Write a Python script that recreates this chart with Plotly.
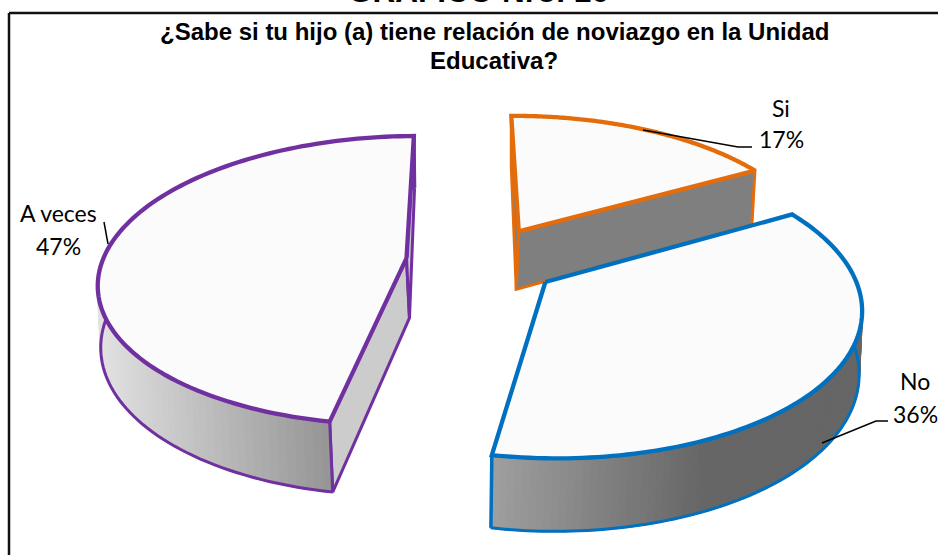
import math
import plotly.graph_objects as go

# chart data
labels = ["Si", "No", "A veces"]
values = [17, 36, 47]
edge_colors = ["#E46C0A", "#0070C0", "#7030A0"]
cut_colors = ["#7F7F7F", "#7F7F7F", "#CCCCCC"]
wall_from = [(127, 127, 127), (160, 160, 160), (226, 226, 226)]
wall_to = [(127, 127, 127), (102, 102, 102), (150, 150, 150)]
top_color = "#FBFBFB"
title_lines = ["¿Sabe si tu hijo (a) tiene relación de noviazgo en la Unidad", "Educativa?"]
heading = "GRÁFICO Nro. 16"

# projection of the tilted pie onto the page (pixels)
W, H = 938, 555
x0, y0 = 482, 261
Ax, Ay = 304, 141.8
persp = 0.155
explode = 0.25
thick = 60
start_deg = -0.6


def project(wx, wz, low=False):
    d = 1 + persp * wz
    sx = Ax * wx / d
    sy = Ay * wz / d
    if low:
        lean = min(1, max(0, (1.1 - wz) * 3))
        return x0 + sx - 3 * lean * math.tanh(sx / 30), y0 - sy + thick / d
    return x0 + sx, y0 - sy


def arc_pts(ox, oz, a, b, low=False, n=110):
    out = []
    for i in range(n + 1):
        t = math.radians(a + (b - a) * i / n)
        out.append(project(ox + math.sin(t), oz + math.cos(t), low))
    return out


def poly(fig, pts, fill, line=None, width=0, close=True):
    xs = [p[0] for p in pts]
    ys = [p[1] for p in pts]
    if close:
        xs.append(xs[0])
        ys.append(ys[0])
    fig.add_trace(go.Scatter(
        x=xs, y=ys, mode="lines",
        fill="toself" if fill else "none", fillcolor=fill,
        line=dict(color=line or fill, width=width or 2, simplify=False),
        hoverinfo="skip", showlegend=False))


def mix(c1, c2, f):
    f = max(0, min(1, f))
    return "rgb(%d,%d,%d)" % tuple(round(c1[i] + (c2[i] - c1[i]) * f) for i in range(3))


# wedges from the shares
total = sum(values)
angles = [start_deg]
for v in values:
    angles.append(angles[-1] + 360 * v / total)

wedges = []
for i in range(3):
    a, b = angles[i], angles[i + 1]
    mid = math.radians((a + b) / 2)
    wedges.append((a, b, explode * math.sin(mid), explode * math.cos(mid)))

fig = go.Figure()

# frame
fig.add_shape(type="line", x0=9, x1=9, y0=13, y1=555, line=dict(color="#111111", width=2.5))
fig.add_shape(type="line", x0=9, x1=938, y0=13, y1=13, line=dict(color="#111111", width=2.5))

# painter's order: back wedge first
for i in [0, 2, 1]:
    a, b, ox, oz = wedges[i]
    col = edge_colors[i]
    apex_t = project(ox, oz)
    apex_b = project(ox, oz, True)

    # flat cut faces
    if labels[i] != "No":
        for ang in (a, b):
            t = math.radians(ang)
            rim_t = project(ox + math.sin(t), oz + math.cos(t))
            rim_b = project(ox + math.sin(t), oz + math.cos(t), True)
            poly(fig, [apex_t, rim_t, rim_b, apex_b], cut_colors[i], col, 3)

    # curved outer wall, shaded in strips
    if labels[i] != "Si":
        top_rim = arc_pts(ox, oz, a, b, False)
        low_rim = arc_pts(ox, oz, a, b, True)
        xs_all = [p[0] for p in top_rim]
        if labels[i] == "No":
            g0, g1 = min(xs_all), min(xs_all) + 215
        else:
            g0, g1 = min(xs_all), max(p[0] for p in top_rim if p[1] > 400)
        for k in range(len(top_rim) - 1):
            f = (top_rim[k][0] - g0) / (g1 - g0)
            poly(fig, [top_rim[k], top_rim[k + 1], low_rim[k + 1], low_rim[k]], mix(wall_from[i], wall_to[i], f))
        poly(fig, low_rim, None, col, 3, close=False)
        poly(fig, [top_rim[-1], low_rim[-1]], None, col, 3.5, close=False)
        poly(fig, [top_rim[0], low_rim[0]], None, col, 3, close=False)

    # top face
    poly(fig, [apex_t] + arc_pts(ox, oz, a, b), top_color, col, 4.3)

# leader lines
leaders = [
    ([643, 738, 752], [130, 147, 147]),
    ([822, 876, 888], [443, 421, 421]),
    ([108, 104], [244, 222]),
]
for lx, ly in leaders:
    fig.add_trace(go.Scatter(x=lx, y=ly, mode="lines", line=dict(color="black", width=1.5),
                             hoverinfo="skip", showlegend=False))

# slice labels
label_pos = [(781, 108, 139), (915, 381, 414), (58, 213, 246)]
for i, (lx, ly1, ly2) in enumerate(label_pos):
    for txt, ly in ((labels[i], ly1), ("%d%%" % values[i], ly2)):
        fig.add_annotation(x=lx, y=ly, text=txt, showarrow=False, xanchor="center", yanchor="middle",
                           font=dict(family="Lato", size=23, color="black"))

# titles
fig.add_annotation(x=494, y=31, text="<b>" + title_lines[0] + "</b>", showarrow=False, xanchor="center", yanchor="middle",
                   font=dict(family="Liberation Sans", size=24, color="black"))
fig.add_annotation(x=494, y=60, text="<b>" + title_lines[1] + "</b>", showarrow=False, xanchor="center", yanchor="middle",
                   font=dict(family="Liberation Sans", size=24, color="black"))
fig.add_annotation(x=478, y=11, text="<b>" + heading + "</b>", showarrow=False, xanchor="center", yanchor="bottom",
                   font=dict(family="Liberation Sans", size=31.5, color="black"))

fig.update_layout(
    width=W, height=H, margin=dict(l=0, r=0, t=0, b=0),
    paper_bgcolor="white", plot_bgcolor="white", showlegend=False,
    xaxis=dict(range=[0, W], visible=False, fixedrange=True),
    yaxis=dict(range=[H, 0], visible=False, fixedrange=True),
)
fig.write_html("out.html", config={"displayModeBar": False}, post_script="document.body.style.margin='0';")
